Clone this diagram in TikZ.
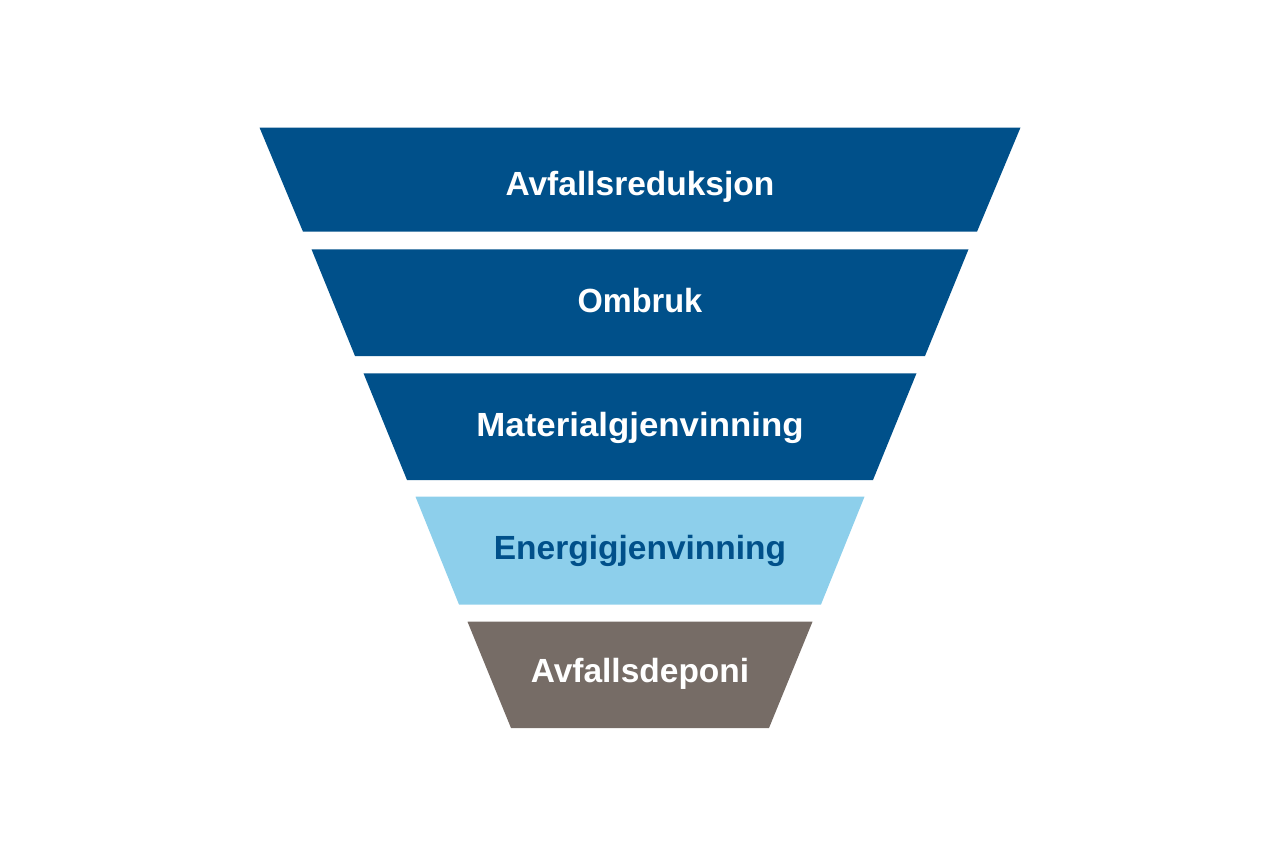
\documentclass[tikz,border=0pt]{standalone}
\usepackage{fontspec}
\setmainfont{Liberation Sans}
\definecolor{darkblue}{HTML}{00508A}
\definecolor{lightblue}{HTML}{8DCFEB}
\definecolor{greybrown}{HTML}{766C66}
\tikzset{
  bandtext/.style={font=\bfseries\fontsize{33.5}{40}\selectfont, inner sep=0pt, anchor=base},
}
\begin{document}
\begin{tikzpicture}[x=1pt,y=-1pt]
\useasboundingbox (0,0) rectangle (1280,854);
\foreach \i/\yt/\yb/\yl/\fc/\tc/\sx/\txt in {
  0/127.5/231.7/195/darkblue/white/1/Avfallsreduksjon,
  1/249.3/356/312.7/darkblue/white/0.97/Ombruk,
  2/373.3/480/436/darkblue/white/1.04/Materialgjenvinning,
  3/496.7/604.5/559.3/lightblue/darkblue/1/Energigjenvinning,
  4/621.7/728/682.3/greybrown/white/1/Avfallsdeponi}{
  \pgfmathsetmacro\hw{380.5-52*\i}
  \pgfmathsetmacro\hb{\hw-43.5}
  \fill[\fc] (640-\hw,\yt) -- (640+\hw,\yt) -- (640+\hb,\yb) -- (640-\hb,\yb) -- cycle;
  \node[bandtext, text=\tc, xscale=\sx] (t\i) at (640,\yl) {\txt};
}
\end{tikzpicture}
\end{document}
